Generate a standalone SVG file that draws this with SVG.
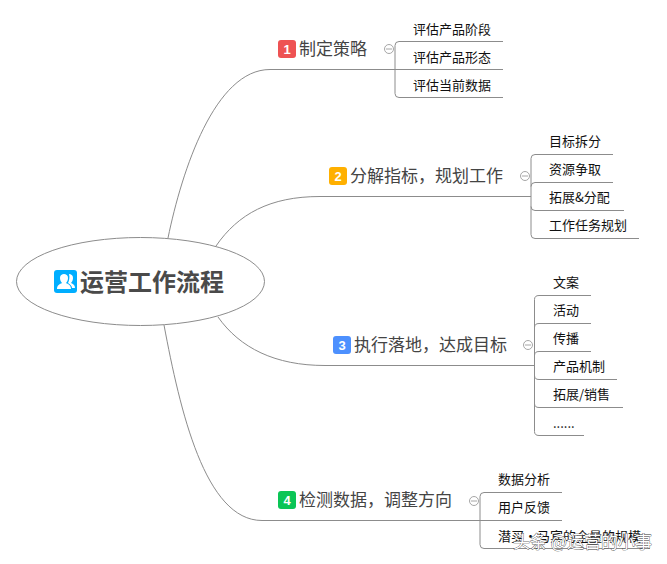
<svg xmlns="http://www.w3.org/2000/svg" width="667" height="564" viewBox="0 0 667 564">
<style>
text{font-family:"Noto Sans CJK SC","Liberation Sans",sans-serif}
.c{fill:none;stroke:#8c8c8c;stroke-width:1}
.s{font-size:13px;fill:#111}
.m{font-size:17px;fill:#444}
.n{font-family:"Liberation Sans",sans-serif;font-size:13px;font-weight:700;fill:#fff;text-anchor:middle}
.g{fill:#fff;stroke:#a6a6a6;stroke-width:1}
.gl{stroke:#a6a6a6;stroke-width:1}
</style>
<rect width="667" height="564" fill="#fff"/>
<g id="connectors">
<path class="c" d="M168 238C182 170 215 69.500 270 69.500H395"/>
<path class="c" d="M216 246C238 214 270 196.500 320 196.500H531"/>
<path class="c" d="M218 317C240 348 275 365.500 325 365.500H534"/>
<path class="c" d="M164 325C180 410 205 520.500 262 520.500H480"/>
<path class="c" d="M503 41.500H399Q395 41.500 395 45.500V93.500Q395 97.500 399 97.500H503M395 69.500H503"/>
<path class="c" d="M613 154.500H535Q531 154.500 531 158.500V234.500Q531 238.500 535 238.500H639M613 182.500H535Q531 182.500 531 186.500M624 210.500H535Q531 210.500 531 206.500"/>
<path class="c" d="M591 295.500H539Q534.500 295.500 534.500 299.500V431.500Q534.500 435.500 539 435.500H584M591 323.500H539Q534.500 323.500 534.500 327.500M591 351.500H539Q534.500 351.500 534.500 355.500M617 379.500H539Q534.500 379.500 534.500 375.500M623 407.500H539Q534.500 407.500 534.500 403.500"/>
<path class="c" d="M562 492.500H484Q480 492.500 480 496.500V544.500Q480 548.500 484 548.500H650M480 520.500H562"/>
</g>
<g id="root">
<ellipse cx="140.500" cy="281.500" rx="124" ry="44" fill="#fff" stroke="#8c8c8c"/>
<rect x="54" y="270" width="23" height="23" rx="3" fill="#00aeff"/>
<path fill="#fff" d="M57 289c0-4 3-5 5-6-1-1-2-3-2-5 0-3 2-4 4-4s4 1 4 4c0 2-1 4-2 5 2 1 5 2 5 6z"/>
<path fill="#fff" d="M69 274c2 0 4 1 4 4 0 2-1 4-2 5 2 1 4 2 4 5h-3c0-2-2-4-4-5 1-2 2-6 1-9z"/>
<text x="80" y="291" font-size="24" font-weight="700" fill="#4a4a4a">运营工作流程</text>
</g>
<g id="branch1">
<rect x="278" y="40" width="18" height="18" rx="3" fill="#ee5253"/>
<text class="n" x="287" y="54">1</text>
<text class="m" x="299" y="55">制定策略</text>
<circle class="g" cx="389" cy="49" r="4.500"/><path class="gl" d="M386 49h6"/>
</g>
<g id="leaf1-1"><text class="s" x="413" y="34">评估产品阶段</text></g>
<g id="leaf1-2"><text class="s" x="413" y="62">评估产品形态</text></g>
<g id="leaf1-3"><text class="s" x="413" y="90">评估当前数据</text></g>
<g id="branch2">
<rect x="329" y="167" width="18" height="18" rx="3" fill="#ffb000"/>
<text class="n" x="338" y="181">2</text>
<text class="m" x="350" y="182">分解指标，规划工作</text>
<circle class="g" cx="525" cy="176" r="4.500"/><path class="gl" d="M522 176h6"/>
</g>
<g id="leaf2-1"><text class="s" x="549" y="146">目标拆分</text></g>
<g id="leaf2-2"><text class="s" x="549" y="174">资源争取</text></g>
<g id="leaf2-3"><text class="s" x="549" y="202">拓展&amp;分配</text></g>
<g id="leaf2-4"><text class="s" x="549" y="230">工作任务规划</text></g>
<g id="branch3">
<rect x="333" y="336" width="18" height="18" rx="3" fill="#4d90fe"/>
<text class="n" x="342" y="350">3</text>
<text class="m" x="354" y="351">执行落地，达成目标</text>
<circle class="g" cx="528" cy="345" r="4.500"/><path class="gl" d="M525 345h6"/>
</g>
<g id="leaf3-1"><text class="s" x="553" y="287">文案</text></g>
<g id="leaf3-2"><text class="s" x="553" y="315">活动</text></g>
<g id="leaf3-3"><text class="s" x="553" y="343">传播</text></g>
<g id="leaf3-4"><text class="s" x="553" y="371">产品机制</text></g>
<g id="leaf3-5"><text class="s" x="553" y="399">拓展/销售</text></g>
<g id="leaf3-6"><text class="s" x="553" y="428">......</text></g>
<g id="branch4">
<rect x="278" y="491" width="18" height="18" rx="3" fill="#0bc556"/>
<text class="n" x="287" y="505">4</text>
<text class="m" x="299" y="506">检测数据，调整方向</text>
<circle class="g" cx="474" cy="501" r="4.500"/><path class="gl" d="M471 501h6"/>
</g>
<g id="leaf4-1"><text class="s" x="498" y="484">数据分析</text></g>
<g id="leaf4-2"><text class="s" x="498" y="512">用户反馈</text></g>
<g id="leaf4-3"><text class="s" x="498" y="541">潜买·马宾的全量的规模</text></g>
<text x="513" y="548" font-size="17" fill="#fff" stroke="#333" stroke-width=".7" paint-order="stroke">头条 @运营的小事</text>
</svg>
